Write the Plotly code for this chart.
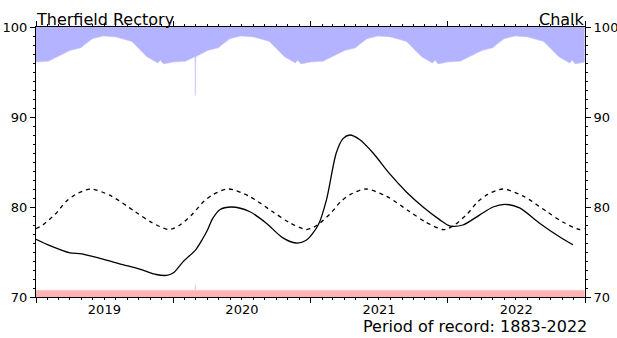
import plotly.graph_objects as go

# ---- data ----
level_dates = ["2019-01-01","2019-02-07","2019-04-01","2019-05-02","2019-06-20","2019-08-20",
               "2019-10-04","2019-11-17","2019-12-14","2020-01-02","2020-01-27","2020-03-02",
               "2020-03-20","2020-04-02","2020-04-15","2020-05-04","2020-06-05","2020-07-22",
               "2020-09-05","2020-10-18","2020-11-23","2020-12-20","2021-01-21","2021-02-12",
               "2021-03-10","2021-03-28","2021-04-15","2021-05-11","2021-06-16","2021-07-30",
               "2021-09-12","2021-10-27","2021-12-10","2022-01-06","2022-02-10","2022-03-26",
               "2022-05-01","2022-06-01","2022-07-11","2022-09-02","2022-10-25","2022-11-30"]
level_values = [76.4,75.7,74.9,74.8,74.3,73.6,73.1,72.5,72.4,72.7,73.9,75.3,
                76.5,77.5,78.7,79.7,80.0,79.5,78.2,76.6,76.0,76.3,78.0,80.8,
                86.0,87.6,88.0,87.5,86.0,83.7,81.7,80.0,78.6,77.9,78.0,79.1,
                80.0,80.3,79.9,78.2,76.7,75.8]

lta_dates = ["2019-01-01","2019-01-19","2019-02-21","2019-03-22","2019-04-17","2019-05-27",
             "2019-07-21","2019-09-21","2019-11-04","2019-12-18",
             "2020-01-01","2020-01-19","2020-02-21","2020-03-22","2020-04-17","2020-05-27",
             "2020-07-21","2020-09-21","2020-11-04","2020-12-18",
             "2021-01-01","2021-01-19","2021-02-21","2021-03-22","2021-04-17","2021-05-27",
             "2021-07-21","2021-09-21","2021-11-04","2021-12-18",
             "2022-01-01","2022-01-19","2022-02-21","2022-03-22","2022-04-17","2022-05-27",
             "2022-07-21","2022-09-21","2022-11-04","2022-12-18","2022-12-31"]
lta_values = [77.6,78.0,79.2,80.6,81.4,82.0,81.2,79.5,78.3,77.5,
              77.6,78.0,79.2,80.6,81.4,82.0,81.2,79.5,78.3,77.5,
              77.6,78.0,79.2,80.6,81.4,82.0,81.2,79.5,78.3,77.5,
              77.6,78.0,79.2,80.6,81.4,82.0,81.2,79.5,78.3,77.5,77.6]

max_dates = ["2019-01-01","2019-02-03","2019-04-02","2019-05-01","2019-05-09","2019-05-31",
             "2019-06-29","2019-08-01","2019-09-13","2019-10-23","2019-11-21","2019-11-28","2019-12-06",
             "2020-01-01","2020-02-03","2020-02-28","2020-02-29","2020-03-01","2020-04-02","2020-05-01",
             "2020-05-09","2020-05-31","2020-06-29","2020-08-01","2020-09-13","2020-10-23",
             "2020-11-21","2020-11-28","2020-12-06",
             "2021-01-01","2021-02-03","2021-04-02","2021-05-01","2021-05-09","2021-05-31",
             "2021-06-29","2021-08-01","2021-09-13","2021-10-23","2021-11-21","2021-11-28","2021-12-06",
             "2022-01-01","2022-02-03","2022-04-02","2022-05-01","2022-05-09","2022-05-31",
             "2022-06-29","2022-08-01","2022-09-13","2022-10-23","2022-11-21","2022-11-28","2022-12-06",
             "2022-12-31"]
max_values = [96.1,96.2,97.4,97.7,98.0,98.7,99.0,98.9,98.4,96.7,96.0,96.3,95.9,
              96.1,96.2,96.7,92.4,96.7,97.4,97.7,98.0,98.7,99.0,98.9,98.4,96.7,96.0,96.3,95.9,
              96.1,96.2,97.4,97.7,98.0,98.7,99.0,98.9,98.4,96.7,96.0,96.3,95.9,
              96.1,96.2,97.4,97.7,98.0,98.7,99.0,98.9,98.4,96.7,96.0,96.3,95.9,96.1]

min_dates = ["2019-01-01","2020-02-28","2020-02-29","2020-03-01","2022-12-31"]
min_values = [70.75,70.75,71.4,70.75,70.75]

top_dates = ["2019-01-01","2022-12-31"]
top_values = [100,100]

year_bounds = ["2019-01-01","2020-01-01","2021-01-01","2022-01-01","2023-01-01"]
year_mids = ["2019-07-02","2020-07-02","2021-07-02","2022-07-02"]
year_labels = ["2019","2020","2021","2022"]
y_ticks = [70,80,90,100]

FONT = "DejaVu Sans"
X_RANGE = ["2019-01-01","2023-01-01"]

fig = go.Figure()
fig.add_trace(go.Scatter(x=top_dates, y=top_values, mode="lines",
                         line=dict(width=0, color="rgba(0,0,0,0)"), hoverinfo="skip"))
fig.add_trace(go.Scatter(x=max_dates, y=max_values, mode="lines", fill="tonexty",
                         fillcolor="#b3b3ff", line=dict(width=0.6, color="#c8c8ff")))
fig.add_trace(go.Scatter(x=min_dates, y=min_values, mode="lines", fill="tozeroy",
                         fillcolor="#ffb3b3", line=dict(width=0.6, color="#ffc8c8")))
fig.add_trace(go.Scatter(x=lta_dates, y=lta_values, mode="lines",
                         line=dict(color="black", width=1.3, dash="4px,4px", shape="spline", smoothing=0.8)))
fig.add_trace(go.Scatter(x=level_dates, y=level_values, mode="lines",
                         line=dict(color="black", width=1.3, shape="spline", smoothing=0.8)))
fig.add_trace(go.Scatter(x=[None], y=[None], xaxis="x2", yaxis="y2", showlegend=False))

axis_common = dict(showgrid=False, zeroline=False, showline=True, linecolor="black", linewidth=1,
                   automargin=False)

fig.update_layout(
    template="none",
    width=617, height=338,
    margin=dict(l=36, r=32, t=27, b=41),
    paper_bgcolor="white", plot_bgcolor="white",
    showlegend=False,
    font=dict(family=FONT, size=13, color="black"),
    xaxis=dict(**axis_common, type="date", range=X_RANGE, tickmode="array", tickvals=year_bounds,
               showticklabels=False, ticks="outside", ticklen=5, tickcolor="black", mirror="allticks",
               minor=dict(dtick="M1", tick0="2019-01-01", ticks="outside", ticklen=2, tickcolor="black",
                          showgrid=False)),
    xaxis2=dict(type="date", range=X_RANGE, overlaying="x", side="bottom", anchor="y",
                tickmode="array", tickvals=year_mids, ticktext=year_labels, ticks="",
                showgrid=False, zeroline=False, showline=False, ticklabelstandoff=3, automargin=False,
                tickfont=dict(family=FONT, size=13, color="black")),
    yaxis=dict(**axis_common, range=[70,100], tickmode="array", tickvals=y_ticks,
               ticks="outside", ticklen=5, tickcolor="black",
               tickfont=dict(family=FONT, size=13, color="black"),
               minor=dict(dtick=1, tick0=70, ticks="outside", ticklen=2, tickcolor="black", showgrid=False)),
    yaxis2=dict(**axis_common, range=[70,100], overlaying="y", side="right", anchor="x",
                tickmode="array", tickvals=y_ticks, ticks="outside", ticklen=5, tickcolor="black",
                tickfont=dict(family=FONT, size=13, color="black"),
                minor=dict(dtick=1, tick0=70, ticks="outside", ticklen=2, tickcolor="black", showgrid=False)),
    annotations=[
        dict(text="Therfield Rectory", xref="paper", yref="paper", x=0, y=1, xanchor="left",
             yanchor="bottom", showarrow=False, font=dict(family=FONT, size=16, color="black"),
             xshift=-2, yshift=-4),
        dict(text="Chalk", xref="paper", yref="paper", x=1, y=1, xanchor="right",
             yanchor="bottom", showarrow=False, font=dict(family=FONT, size=16, color="black"),
             xshift=2, yshift=-4),
        dict(text="Period of record: 1883-2022", xref="paper", yref="paper", x=1, y=-0.106,
             xanchor="right", yanchor="middle", showarrow=False,
             font=dict(family=FONT, size=16, color="black"), xshift=4, yshift=-1),
    ],
)

fig.write_html("out.html", config={"displayModeBar": False},
               post_script="document.body.style.margin='0';document.body.style.overflow='hidden';")
